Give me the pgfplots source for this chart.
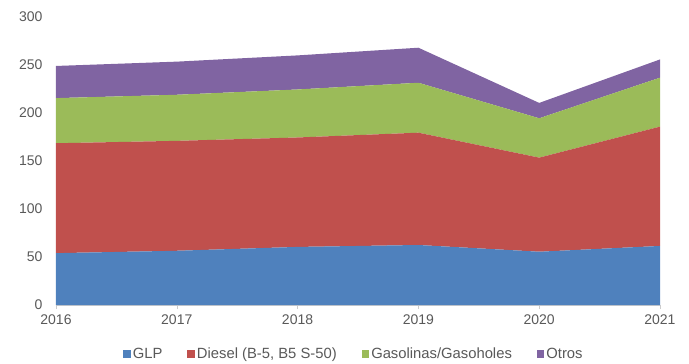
\documentclass[border=0pt]{standalone}
\usepackage{fontspec}
\setmainfont{Liberation Sans}
\usepackage{pgfplots}
\pgfplotsset{compat=1.18}
\definecolor{cglp}{HTML}{4F81BD}
\definecolor{cdie}{HTML}{C0504D}
\definecolor{cgas}{HTML}{9BBB59}
\definecolor{coth}{HTML}{8064A2}
\definecolor{ctxt}{HTML}{595959}
\begin{document}
\begin{tikzpicture}
\path[use as bounding box] (-56bp,-59bp) rectangle (633bp,305bp);
\begin{axis}[
  scale only axis, width=604bp, height=288bp,
  xmin=2016, xmax=2021, ymin=0, ymax=300,
  stack plots=y,
  xtick={2016,...,2021}, ytick={0,50,...,300},
  xticklabel style={/pgf/number format/1000 sep={}},
  /pgf/number format/assume math mode=true,
  font=\fontsize{14bp}{16bp}\selectfont,
  tick label style={text=ctxt},
  axis x line*=bottom, axis y line*=left,
  y axis line style={draw=none},
  x axis line style={draw=black!20},
  ytick style={draw=none},
  xtick style={draw=black!20},
  tick align=outside, major tick length=4bp,
  yticklabel style={xshift=-6bp},
  xticklabel style={yshift=-2bp},
  legend style={draw=none, at={(0.4925,-0.17)}, anchor=center, legend columns=-1,
    font=\fontsize{14.8bp}{16bp}\selectfont, text=ctxt,
    /tikz/every odd column/.append style={column sep=1bp},
    /tikz/every even column/.append style={column sep=24bp},
    nodes={inner xsep=1bp}},
  legend image code/.code={\fill[#1] (0bp,-3.8bp) rectangle (7.5bp,3.8bp);},
]
\addplot[fill=cglp, draw=none] coordinates {(2016,54) (2017,56.5) (2018,60.5) (2019,62.5) (2020,55.5) (2021,61.5)} \closedcycle;
\addplot[fill=cdie, draw=none] coordinates {(2016,114.5) (2017,114.5) (2018,114) (2019,117) (2020,98) (2021,124.3)} \closedcycle;
\addplot[fill=cgas, draw=none] coordinates {(2016,47) (2017,48) (2018,50) (2019,52) (2020,41) (2021,51)} \closedcycle;
\addplot[fill=coth, draw=none] coordinates {(2016,33.5) (2017,34.5) (2018,35.5) (2019,36.5) (2020,16) (2021,19)} \closedcycle;
\legend{GLP, {Diesel (B-5, B5 S-50)}, Gasolinas/Gasoholes, Otros}
\end{axis}
\end{tikzpicture}
\end{document}
